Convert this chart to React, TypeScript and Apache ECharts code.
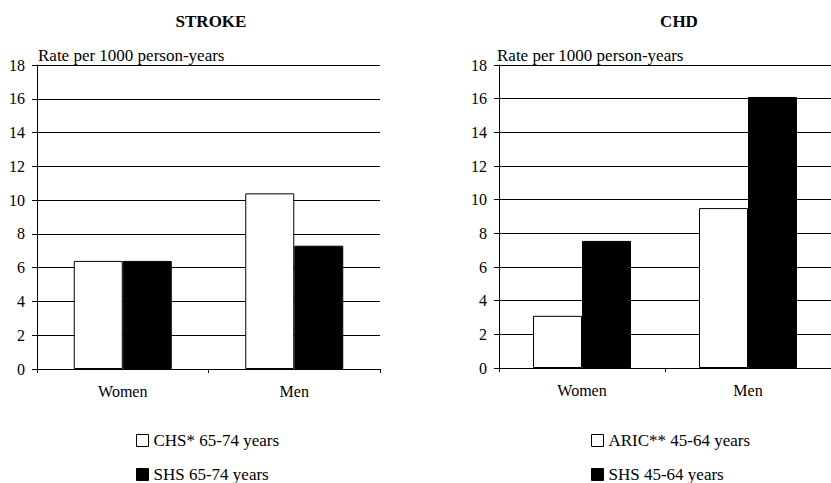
import React, { useEffect, useRef } from "react";
import * as echarts from "echarts";

const categories = ["Women", "Men"];
const strokeCHS = [6.4, 10.4];
const strokeSHS = [6.4, 7.3];
const chdARIC = [3.1, 9.5];
const chdSHS = [7.55, 16.1];
const yTicks = { min: 0, max: 18, interval: 2 };
const titles = ["STROKE", "CHD"];
const seriesNames = ["CHS* 65-74 years", "SHS 65-74 years", "ARIC** 45-64 years", "SHS 45-64 years"];
const yName = "Rate per 1000 person-years";

const FONT = "'Liberation Serif', 'Times New Roman', serif";

export default function App() {
  const ref = useRef<HTMLDivElement>(null);
  useEffect(() => {
    if (!ref.current) return;
    const chart = echarts.init(ref.current, null, { renderer: "svg" });
    const white = { color: "#ffffff", borderColor: "#000000", borderWidth: 1 };
    const black = { color: "#000000", borderColor: "#000000", borderWidth: 1 };
    const mkX = (gi: number) => ({
      type: "category",
      gridIndex: gi,
      data: categories,
      axisLine: { lineStyle: { color: "#000", width: 1 } },
      axisTick: { show: true, length: 4, lineStyle: { color: "#000" } },
      axisLabel: { color: "#000", fontSize: 16, fontFamily: FONT, margin: 14 },
      splitLine: { show: false },
    });
    const mkY = (gi: number) => ({
      type: "value",
      gridIndex: gi,
      min: yTicks.min,
      max: yTicks.max,
      interval: yTicks.interval,
      name: yName,
      nameLocation: "end",
      nameGap: 1,
      nameTextStyle: {
        color: "#000",
        fontSize: 17,
        fontFamily: FONT,
        align: "left",
        verticalAlign: "bottom",
        padding: [0, 0, 0, gi === 1 ? -2 : 1],
      },
      axisLine: { show: true, lineStyle: { color: "#000", width: 1 } },
      axisTick: { show: true, length: 5, lineStyle: { color: "#000" } },
      axisLabel: { color: "#000", fontSize: 16, fontFamily: FONT, margin: 12 },
      splitLine: { show: true, lineStyle: { color: "#000", width: 1 } },
    });
    const legendText = { color: "#000", fontSize: 17, fontFamily: FONT, lineHeight: 15 };
    const legendBase = {
      orient: "vertical",
      top: 432,
      height: 60,
      padding: 0,
      itemWidth: 12,
      itemHeight: 12,
      itemGap: 17,
      icon: "rect",
      textStyle: legendText,
    };
    chart.setOption({
      animation: false,
      backgroundColor: "#ffffff",
      textStyle: { fontFamily: FONT },
      graphic: [
        {
          type: "text",
          x: 211,
          y: 21,
          style: { text: titles[0], fontFamily: FONT, fontWeight: "bold", fontSize: 17, fill: "#000", textAlign: "center", textVerticalAlign: "middle" },
        },
        {
          type: "text",
          x: 679,
          y: 21,
          style: { text: titles[1], fontFamily: FONT, fontWeight: "bold", fontSize: 17, fill: "#000", textAlign: "center", textVerticalAlign: "middle" },
        },
      ],
      grid: [
        { left: 37, right: 451, top: 65, bottom: 114 },
        { left: 499, right: -8, top: 65, bottom: 115 },
      ],
      xAxis: [mkX(0), mkX(1)],
      yAxis: [mkY(0), mkY(1)],
      legend: [
        {
          ...legendBase,
          left: 136,
          data: [
            { name: seriesNames[0], itemStyle: white },
            { name: seriesNames[1], itemStyle: black },
          ],
        },
        {
          ...legendBase,
          left: 591,
          data: [
            { name: seriesNames[2], itemStyle: white },
            { name: seriesNames[3], itemStyle: black },
          ],
        },
      ],
      series: [
        { name: seriesNames[0], type: "bar", xAxisIndex: 0, yAxisIndex: 0, data: strokeCHS, barWidth: 49, barGap: "0%", itemStyle: white },
        { name: seriesNames[1], type: "bar", xAxisIndex: 0, yAxisIndex: 0, data: strokeSHS, barWidth: 49, barGap: "0%", itemStyle: black },
        { name: seriesNames[2], type: "bar", xAxisIndex: 1, yAxisIndex: 1, data: chdARIC, barWidth: 49, barGap: "0%", itemStyle: white },
        { name: seriesNames[3], type: "bar", xAxisIndex: 1, yAxisIndex: 1, data: chdSHS, barWidth: 49, barGap: "0%", itemStyle: black },
      ],
    });
    return () => chart.dispose();
  }, []);
  return (
    <div
      ref={ref}
      style={{ position: "fixed", left: 0, top: 0, width: 831, height: 483, background: "#fff" }}
    />
  );
}
